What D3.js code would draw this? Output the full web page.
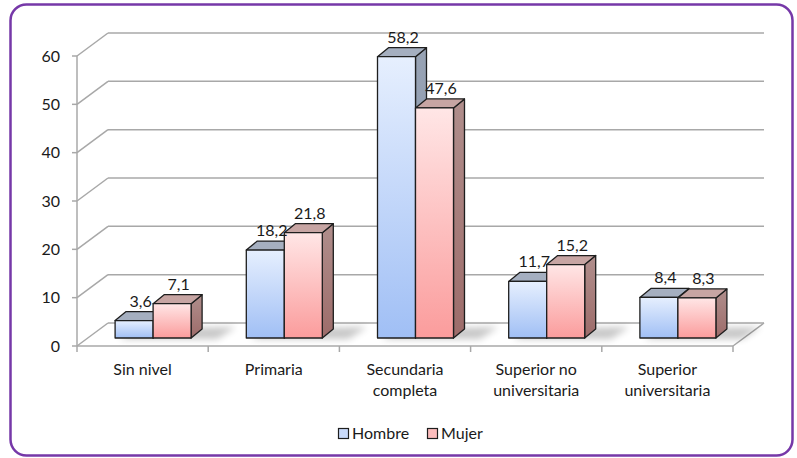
<!DOCTYPE html>
<html><head><meta charset="utf-8">
<script src="https://cdn.jsdelivr.net/npm/d3@7"></script>
<style>html,body{margin:0;padding:0;background:#fff}svg{display:block}text{font-family:Lato,"Open Sans",sans-serif;fill:#1a1a1a}</style>
</head><body><svg id="c" width="797" height="458"></svg>
<script>
const categories = ["Sin nivel", "Primaria", "Secundaria\ncompleta", "Superior no\nuniversitaria", "Superior\nuniversitaria"];
const seriesNames = ["Hombre", "Mujer"];
const hombre = [3.6, 18.2, 58.2, 11.7, 8.4];
const mujer = [7.1, 21.8, 47.6, 15.2, 8.3];
const yTicks = [0, 10, 20, 30, 40, 50, 60];

const svg = d3.select("#c");
const defs = svg.append("defs");
function grad(id, c1, c2) {
  const g = defs.append("linearGradient").attr("id", id).attr("x1", 0).attr("y1", 0).attr("x2", 0).attr("y2", 1);
  g.append("stop").attr("offset", "0%").attr("stop-color", c1);
  g.append("stop").attr("offset", "100%").attr("stop-color", c2);
}
grad("hF", "#e6effe", "#a0bff5");
grad("mF", "#ffe6e6", "#fb9c9c");
grad("hS", "#98a3b4", "#8594ae");
grad("mS", "#b08e8c", "#9d6c6a");
defs.append("filter").attr("id", "blur").attr("x", "-50%").attr("y", "-50%").attr("width", "200%").attr("height", "200%")
  .append("feGaussianBlur").attr("stdDeviation", 3.5);

const colors = {
  Hombre: {front: "url(#hF)", side: "url(#hS)", top: "#a5afc0", legend: "#c9dafa"},
  Mujer: {front: "url(#mF)", side: "url(#mS)", top: "#c7a5a3", legend: "#fdbdbd"}
};

// frame
svg.append("rect").attr("x", 10.5).attr("y", 4.5).attr("width", 782).attr("height", 451)
  .attr("rx", 16).attr("fill", "#fff").attr("stroke", "#7638a8").attr("stroke-width", 2.5);

const plotL = 77, plotR = 733;
const x = d3.scaleBand().domain(categories).range([plotL, plotR]);
const y = d3.scaleLinear().domain([0, 60]).range([346, 56]);
const wall = {dx: 31, dy: -23};   // depth of walls
const front = {dx: 10.5, dy: -8}; // bar front plane offset
const bd = {dx: 11, dy: -9};      // bar depth
const gridC = "#a8a8a8";
const FS = 16;

const g = svg.append("g");
yTicks.forEach(t => {
  const yy = y(t);
  g.append("line").attr("x1", plotL).attr("y1", yy).attr("x2", plotL + wall.dx).attr("y2", yy + wall.dy)
    .attr("stroke", gridC).attr("stroke-width", 1.5);
  g.append("line").attr("x1", plotL + wall.dx).attr("y1", yy + wall.dy).attr("x2", plotR + wall.dx).attr("y2", yy + wall.dy)
    .attr("stroke", gridC).attr("stroke-width", 1.5);
});
g.append("line").attr("x1", plotL).attr("y1", y(0)).attr("x2", plotR).attr("y2", y(0)).attr("stroke", gridC).attr("stroke-width", 1.5);
g.append("line").attr("x1", plotR).attr("y1", y(0)).attr("x2", plotR + wall.dx).attr("y2", y(0) + wall.dy).attr("stroke", gridC).attr("stroke-width", 1.5);
g.append("line").attr("x1", plotL).attr("y1", y(60)).attr("x2", plotL).attr("y2", y(0)).attr("stroke", gridC).attr("stroke-width", 1.5);
yTicks.forEach(t => {
  g.append("line").attr("x1", plotL - 5).attr("x2", plotL).attr("y1", y(t)).attr("y2", y(t)).attr("stroke", gridC).attr("stroke-width", 1.5);
  g.append("text").attr("x", 60).attr("y", y(t)).attr("dy", "0.35em").attr("text-anchor", "end")
    .attr("font-size", FS).text(t);
});
categories.forEach(c => {
  const xx = x(c);
  g.append("line").attr("x1", xx).attr("x2", xx).attr("y1", y(0)).attr("y2", y(0) + 6).attr("stroke", gridC).attr("stroke-width", 1.5);
});
g.append("line").attr("x1", plotR).attr("x2", plotR).attr("y1", y(0)).attr("y2", y(0) + 6).attr("stroke", gridC).attr("stroke-width", 1.5);

categories.forEach(c => {
  const lines = c.split("\n");
  const t = g.append("text").attr("text-anchor", "middle").attr("font-size", FS);
  lines.forEach((ln, k) => {
    t.append("tspan").attr("x", x(c) + x.bandwidth() / 2).attr("y", 375 + k * 21).text(ln);
  });
});

const barW = 38;
const xs = d3.scaleBand().domain(seriesNames).range([0, barW * 2]);
const data = categories.map((c, i) => ({c, vals: [{s: "Hombre", v: hombre[i]}, {s: "Mujer", v: mujer[i]}]}));
const fmt = v => d3.format(".1f")(v).replace(".", ",");
const base = y(0) + front.dy;

data.forEach(d => {
  const gx = x(d.c) + x.bandwidth() / 2 - barW + front.dx;
  const R = gx + barW * 2;
  g.append("polygon")
    .attr("points", [[gx + 4, base + 1], [R + 26, base + 1], [R + bd.dx + 34, base + bd.dy - 2], [gx + bd.dx + 10, base + bd.dy]].map(p => p.join(",")).join(" "))
    .attr("fill", "#000").attr("opacity", 0.22).attr("filter", "url(#blur)");
});

const labels = [];
data.forEach(d => {
  const gx = x(d.c) + x.bandwidth() / 2 - barW + front.dx;
  d.vals.forEach(b => {
    const L = gx + xs(b.s), R = L + barW;
    const top = y(b.v) + front.dy;
    const col = colors[b.s];
    const bg = g.append("g").attr("stroke", "#1e1e1e").attr("stroke-width", 1.3).attr("stroke-linejoin", "round");
    bg.append("polygon").attr("points", [[R, top], [R + bd.dx, top + bd.dy], [R + bd.dx, base + bd.dy], [R, base]].map(p => p.join(",")).join(" "))
      .attr("fill", col.side);
    bg.append("polygon").attr("points", [[L, top], [L + bd.dx, top + bd.dy], [R + bd.dx, top + bd.dy], [R, top]].map(p => p.join(",")).join(" "))
      .attr("fill", col.top);
    bg.append("rect").attr("x", L).attr("y", top).attr("width", barW).attr("height", base - top).attr("fill", col.front);
    labels.push({x: L + barW / 2 + bd.dx / 2 + 1, y: top + bd.dy - 5, t: fmt(b.v)});
  });
});
labels.forEach(l => {
  g.append("text").attr("x", l.x).attr("y", l.y).attr("text-anchor", "middle").attr("font-size", FS).text(l.t);
});

const leg = g.append("g");
const legPos = [{s: "Hombre", x: 338}, {s: "Mujer", x: 427}];
legPos.forEach(p => {
  leg.append("rect").attr("x", p.x + 0.5).attr("y", 428.5).attr("width", 10).attr("height", 10)
    .attr("fill", colors[p.s].legend).attr("stroke", "#1e1e1e").attr("stroke-width", 1.2);
  leg.append("text").attr("x", p.x + 14).attr("y", 433.5).attr("dy", "0.35em").attr("font-size", FS).text(p.s);
});
</script></body></html>
